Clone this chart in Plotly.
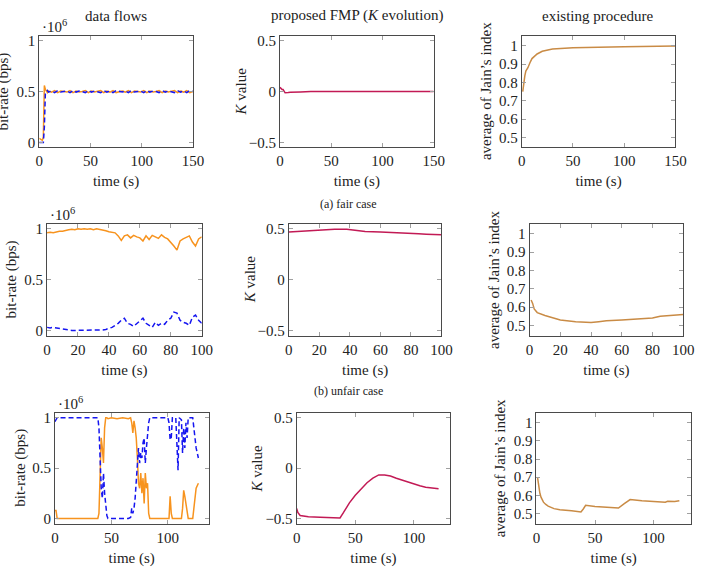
import plotly.graph_objects as go

W, H = 705, 576

# ---------------- (a) fair case ----------------
t_fair = [0, 1, 2, 3, 4, 5, 6, 7, 8, 9, 12, 15, 18, 21, 24, 27, 30, 33, 36, 39,
          42, 45, 48, 51, 54, 57, 60, 63, 66, 69, 72, 75, 78, 81, 84, 87, 90, 93,
          96, 99, 102, 105, 108, 111, 114, 117, 120, 123, 126, 129, 132, 135, 138,
          141, 144, 147, 150]
fair_flow1 = [0.04, 0.03, 0.02, 0.02, 0.05, 0.56, 0.52, 0.5, 0.49,
              0.505, 0.495, 0.51, 0.49, 0.505, 0.5, 0.495, 0.51, 0.49, 0.505,
              0.495, 0.5, 0.51, 0.49, 0.505, 0.495, 0.5, 0.51, 0.49, 0.505,
              0.495, 0.51, 0.49, 0.5, 0.505, 0.495, 0.51, 0.49, 0.505, 0.5,
              0.495, 0.51, 0.49, 0.505, 0.495, 0.5, 0.51, 0.49, 0.505, 0.495,
              0.5, 0.51, 0.49, 0.505, 0.495, 0.51, 0.49, 0.5]
fair_flow2 = [0.0, 0.0, 0.0, 0.0, 0.0, 0.15, 0.49, 0.5, 0.51,
              0.495, 0.505, 0.49, 0.51, 0.495, 0.5, 0.505, 0.49, 0.51, 0.495,
              0.505, 0.5, 0.49, 0.51, 0.495, 0.505, 0.5, 0.49, 0.51, 0.495,
              0.505, 0.49, 0.51, 0.5, 0.495, 0.505, 0.49, 0.51, 0.495, 0.5,
              0.505, 0.49, 0.51, 0.495, 0.505, 0.5, 0.49, 0.51, 0.495, 0.505,
              0.5, 0.49, 0.51, 0.495, 0.505, 0.49, 0.51, 0.5]
t_fair_k = [0, 1, 2, 3, 4, 5, 8, 10, 20, 30, 150]
fair_k = [0.042, 0.03, 0.02, 0.02, 0.0, -0.012, -0.01, -0.007, -0.003, 0.0, 0.0]
t_fair_j = [1, 2, 3, 4, 5, 6, 8, 10, 15, 20, 30, 50, 100, 150]
fair_j = [0.75, 0.8, 0.836, 0.862, 0.871, 0.88, 0.907, 0.93, 0.955, 0.97, 0.982,
          0.989, 0.995, 0.998]

# ---------------- (b) unfair case ----------------
t_unfair = [0, 2, 4, 6, 8, 10, 12, 14, 16, 18, 20, 22, 24, 26, 28, 30, 32, 34, 36,
            38, 40, 42, 44, 46, 48, 50, 52, 54, 56, 58, 60, 62, 64, 66, 68, 70, 72,
            74, 76, 78, 80, 82, 84, 86, 88, 90, 92, 94, 96, 98, 100]
unfair_flow1 = [0.96, 0.965, 0.96, 0.97, 0.975, 0.975, 0.985, 0.99, 0.995, 0.99,
                1.0, 0.995, 1.0, 0.995, 1.0, 0.99, 1.0, 0.995, 0.985, 0.98, 0.97,
                0.965, 0.96, 0.93, 0.885, 0.93, 0.94, 0.91, 0.935, 0.92, 0.91, 0.88,
                0.93, 0.895, 0.935, 0.92, 0.905, 0.94, 0.915, 0.9, 0.87, 0.83, 0.79,
                0.88, 0.9, 0.915, 0.93, 0.87, 0.83, 0.9, 0.92]
unfair_flow2 = [0.03, 0.025, 0.03, 0.025, 0.02, 0.015, 0.005, 0.0, 0.0, 0.0, 0.0,
                0.0, 0.0, 0.0, 0.0, 0.0, 0.0, 0.0, 0.005, 0.01, 0.02, 0.03, 0.05,
                0.07, 0.1, 0.12, 0.07, 0.06, 0.04, 0.07, 0.09, 0.12, 0.07, 0.05,
                0.03, 0.08, 0.05, 0.07, 0.06, 0.1, 0.12, 0.18, 0.17, 0.1, 0.08, 0.07,
                0.05, 0.13, 0.15, 0.1, 0.07]
t_unfair_k = [0, 10, 20, 30, 38, 45, 50, 60, 70, 80, 85, 90, 100]
unfair_k = [0.467, 0.478, 0.49, 0.495, 0.495, 0.485, 0.473, 0.467, 0.463, 0.458,
            0.45, 0.447, 0.44]
t_unfair_j = [1, 2, 3, 5, 10, 15, 20, 30, 40, 45, 50, 60, 70, 80, 85, 90, 100]
unfair_j = [0.639, 0.62, 0.59, 0.57, 0.554, 0.541, 0.53, 0.52, 0.516, 0.52, 0.525,
            0.53, 0.536, 0.54, 0.55, 0.552, 0.56]

# ---------------- (c) third case ----------------
t_c = [0, 1, 2, 10, 20, 30, 38, 39, 40, 41, 42, 43, 44, 45, 46, 47, 50, 55, 60, 65,
       67, 68, 69, 70, 71, 72, 73, 74, 75, 76, 77, 78, 79, 80, 81, 82, 83, 84, 90,
       100, 101, 102, 103, 104, 107, 108, 109, 110, 112, 113, 114, 115, 116, 117,
       118, 122, 123, 125, 127]
c_flow1 = [0.08, 0.08, 0.0, 0.0, 0.0, 0.0, 0.0, 0.05, 0.4, 0.8, 0.7, 0.55, 0.9,
           1.0, 1.0, 0.99, 1.0, 0.99, 1.0, 0.99, 1.0, 0.95, 0.85, 0.97, 0.9, 0.8,
           0.6, 0.35, 0.3, 0.45, 0.25, 0.4, 0.15, 0.45, 0.3, 0.35, 0.05, 0.0, 0.0,
           0.0, 0.0, 0.22, 0.05, 0.0, 0.0, 0.0, 0.0, 0.0, 0.0, 0.1, 0.28, 0.22,
           0.15, 0.05, 0.0, 0.0, 0.1, 0.3, 0.35]
c_flow2 = [0.96, 0.99, 1.0, 1.0, 1.0, 1.0, 1.0, 0.9, 0.5, 0.3, 0.2, 0.45, 0.25,
           0.15, 0.03, 0.0, 0.0, 0.0, 0.0, 0.0, 0.01, 0.1, 0.05, 0.1, 0.2, 0.4, 0.5,
           0.7, 0.55, 0.65, 0.6, 0.75, 0.8, 0.55, 0.7, 0.85, 0.95, 1.0, 1.0, 1.0,
           0.95, 0.78, 0.8, 1.0, 1.0, 0.7, 0.48, 1.0, 0.98, 0.65, 0.9, 0.7, 0.95,
           0.8, 1.0, 1.0, 0.9, 0.7, 0.6]
t_c_k = [0, 1, 3, 6, 10, 20, 30, 37, 40, 45, 50, 55, 60, 65, 70, 75, 80, 85, 90, 95,
         100, 105, 110, 115, 121]
c_k = [-0.40, -0.44, -0.47, -0.478, -0.483, -0.488, -0.492, -0.494, -0.44, -0.345,
       -0.27, -0.205, -0.145, -0.1, -0.068, -0.068, -0.078, -0.1, -0.12, -0.14,
       -0.16, -0.175, -0.19, -0.197, -0.205]
t_c_j = [1, 2, 3, 4, 6, 8, 10, 15, 20, 30, 38, 40, 42, 50, 60, 70, 75, 80, 90, 100,
         105, 110, 112, 118, 122]
c_j = [0.696, 0.643, 0.61, 0.589, 0.5625, 0.55, 0.541, 0.527, 0.521, 0.515, 0.509,
       0.525, 0.545, 0.539, 0.533, 0.53, 0.555, 0.577, 0.571, 0.566, 0.565, 0.562,
       0.567, 0.566, 0.57]

# tick labels
flow_ticks = [0, 0.5, 1]
flow_ticktext = ["0", "0.5", "1"]
k_ticks = [-0.5, 0, 0.5]
k_ticktext = ["\u22120.5", "0", "0.5"]
j_ticks = [0.5, 0.6, 0.7, 0.8, 0.9, 1]
j_ticktext = ["0.5", "0.6", "0.7", "0.8", "0.9", "1"]

ORANGE = "#f7931e"
BLUE = "#1515f0"
KCOL = "#c21a55"
JCOL = "#c98b45"
FONT = "Liberation Serif, DejaVu Serif, serif"
TXT = "#222222"
FS = 15

# panel geometry in pixels: (left, right, top, bottom)
boxes = [
    [(36, 193, 33, 146), (282, 439, 33, 146), (529, 686, 33, 146)],
    [(44, 202, 223, 336), (291, 447, 223, 336), (537, 694, 223, 336)],
    [(52, 209, 414, 526), (299, 456, 414, 526), (544, 702, 414, 526)],
]
xranges = [[(0, 150)] * 3, [(0, 100)] * 3, [(0, 136), (0, 131), (0, 132)]]
xticks = [[0, 50, 100, 150], [0, 20, 40, 60, 80, 100], [0, 50, 100]]

series = [
    [[(t_fair, fair_flow1, ORANGE, None), (t_fair, fair_flow2, BLUE, "dash")],
     [(t_fair_k, fair_k, KCOL, None)], [(t_fair_j, fair_j, JCOL, None)]],
    [[(t_unfair, unfair_flow1, ORANGE, None), (t_unfair, unfair_flow2, BLUE, "dash")],
     [(t_unfair_k, unfair_k, KCOL, None)], [(t_unfair_j, unfair_j, JCOL, None)]],
    [[(t_c, c_flow1, ORANGE, None), (t_c, c_flow2, BLUE, "dash")],
     [(t_c_k, c_k, KCOL, None)], [(t_c_j, c_j, JCOL, None)]],
]
yspec = [
    ((-0.05, 1.05), flow_ticks, flow_ticktext, "bit-rate (bps)", 36),
    ((-0.55, 0.55), k_ticks, k_ticktext, "<i>K</i> value", 40),
    ((0.445, 1.055), j_ticks, j_ticktext, "average of Jain\u2019s index", 37),
]

fig = go.Figure()
layout = {}
annotations = []
idx = 0
for r in range(3):
    for c in range(3):
        idx += 1
        sfx = "" if idx == 1 else str(idx)
        L, R, T, B = boxes[r][c]
        for (xs, ys, col, dash) in series[r][c]:
            line = dict(color=col, width=1.5)
            if dash:
                line["dash"] = "5px,3px"
            fig.add_trace(go.Scatter(x=xs, y=ys, mode="lines", line=line,
                                     showlegend=False, xaxis="x" + sfx,
                                     yaxis="y" + sfx, hoverinfo="skip"))
        yr, yt, ytt, ytitle, ydist = yspec[c]
        common = dict(showline=True, linecolor="#4a4a4a", linewidth=1,
                      mirror="ticks", ticks="inside", ticklen=4,
                      tickcolor="#a0a0a0", tickwidth=1, showgrid=False,
                      zeroline=False,
                      tickfont=dict(family=FONT, size=FS, color=TXT))
        layout["xaxis" + sfx] = dict(
            domain=[L / W, R / W], range=list(xranges[r][c]),
            tickvals=xticks[r], anchor="y" + sfx,
            title=dict(text="time (s)", standoff=7,
                       font=dict(family=FONT, size=FS, color=TXT)),
            **common)
        layout["yaxis" + sfx] = dict(
            domain=[1 - B / H, 1 - T / H], range=list(yr),
            tickvals=yt, ticktext=ytt, anchor="x" + sfx, **common)
        annotations.append(dict(
            text=ytitle, textangle=-90, x=(L - ydist) / W, y=1 - (T + B) / 2 / H,
            xref="paper", yref="paper", xanchor="center", yanchor="middle",
            showarrow=False, font=dict(family=FONT, size=FS, color=TXT)))
    # multiplier label
    L, R, T, B = boxes[r][0]
    annotations.append(dict(
        text="\u00b710<sup>6</sup>", x=(L + 1) / W, y=1 - (T + 1) / H,
        xref="paper", yref="paper", xanchor="left", yanchor="bottom",
        showarrow=False, font=dict(family=FONT, size=FS, color=TXT)))

# column titles
for text, cx in [("data flows", 114), ("proposed FMP (<i>K</i> evolution)", 361),
                 ("existing procedure", 607)]:
    annotations.append(dict(text=text, x=cx / W, y=1 - 13 / H, xref="paper",
                            yref="paper", xanchor="center", yanchor="middle",
                            showarrow=False,
                            font=dict(family=FONT, size=FS, color=TXT)))
# sub-captions
for text, cy in [("(a) fair case", 203), ("(b) unfair case", 392)]:
    annotations.append(dict(text=text, x=352 / W, y=1 - cy / H, xref="paper",
                            yref="paper", xanchor="center", yanchor="middle",
                            showarrow=False,
                            font=dict(family=FONT, size=12, color=TXT)))

fig.update_layout(width=W, height=H, margin=dict(l=0, r=0, t=0, b=0),
                  paper_bgcolor="white", plot_bgcolor="white",
                  annotations=annotations, **layout)
fig.write_html("out.html")
